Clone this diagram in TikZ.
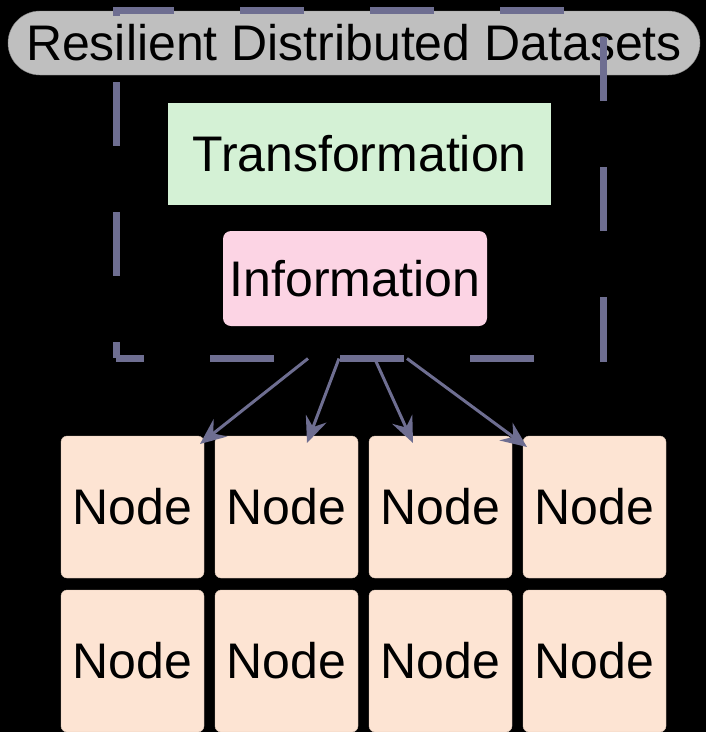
\documentclass[tikz,border=0pt]{standalone}
\usepackage{fontspec}
\setmainfont{Liberation Sans}
\usetikzlibrary{arrows.meta,chains,positioning}

\definecolor{rddline}{RGB}{110,110,145}
\definecolor{pillgray}{RGB}{191,191,191}
\definecolor{transgreen}{RGB}{212,241,213}
\definecolor{infopink}{RGB}{252,212,228}
\definecolor{nodepeach}{RGB}{253,228,211}

\begin{document}
\begin{tikzpicture}[x=1pt, y=-1pt,
node distance=11pt,
 font=\fontsize{50}{60}\selectfont,
    pill/.style = {rectangle, draw=gray, fill=pillgray, rounded corners=32pt,% title of the picture
                   minimum width=692pt, minimum height=64pt, inner sep=0pt},
  rddbox/.style = {rectangle, draw=rddline, line width=7pt,% dashed frame
                   dash pattern=on 64pt off 66pt, dash phase=36pt,
                   minimum width=487pt, minimum height=348pt, inner sep=0pt},
   trans/.style = {rectangle, fill=transgreen,
                   minimum width=383pt, minimum height=102pt, inner sep=0pt},
    info/.style = {rectangle, fill=infopink, rounded corners=8pt,
                   minimum width=264pt, minimum height=95pt, inner sep=0pt},
    cell/.style = {rectangle, draw=nodepeach!85!black, fill=nodepeach,% nodes in rows (chains)
                   rounded corners=6pt, minimum width=143pt, minimum height=142pt,
                   inner sep=0pt, outer sep=0pt, on chain},
     arr/.style = {draw=rddline, line width=3pt,
                   -{Stealth[length=26pt,width=22pt,inset=9pt]}},
                        ]
\fill[black] (0,0) rectangle (706,732);
\useasboundingbox (0,0) rectangle (706,732);
\node[pill] (title) at (354,43) {Resilient Distributed Datasets};
\node[rddbox] (rdd) at (359.5,184) {};
\node[trans] (transform) at (359.5,154) {Transformation};
\node[info] (information) at (355,278.5) {Information};
% upper row
\begin{scope}[start chain=upper going right]
\node[cell] at (132.5,507) {Node};
\foreach \i in {2,3,4}% <-- rest of the row
    \node[cell] {Node};
\end{scope}
% lower row
\begin{scope}[start chain=lower going right]
\node[cell, below=12pt of upper-1] {Node};
\foreach \i in {2,3,4}
    \node[cell] {Node};
\end{scope}
\coordinate (src1) at ([xshift=-51.5pt,yshift=3pt]rdd.south);
\coordinate (src2) at ([xshift=-20.5pt,yshift=3pt]rdd.south);
\coordinate (src3) at ([xshift=16.5pt]rdd.south);
\coordinate (src4) at ([xshift=47.5pt,yshift=3pt]rdd.south);
\draw[arr] (src1) -- ([xshift=-4pt,yshift=-8pt]upper-1.north east);
\draw[arr] (src2) -- ([xshift=20.5pt,yshift=-7pt]upper-2.north);
\draw[arr] (src3) -- ([xshift=-27.5pt,yshift=-7pt]upper-3.north);
\draw[arr] (src4) -- ([xshift=4pt,yshift=-11pt]upper-4.north west);
\end{tikzpicture}
\end{document}
